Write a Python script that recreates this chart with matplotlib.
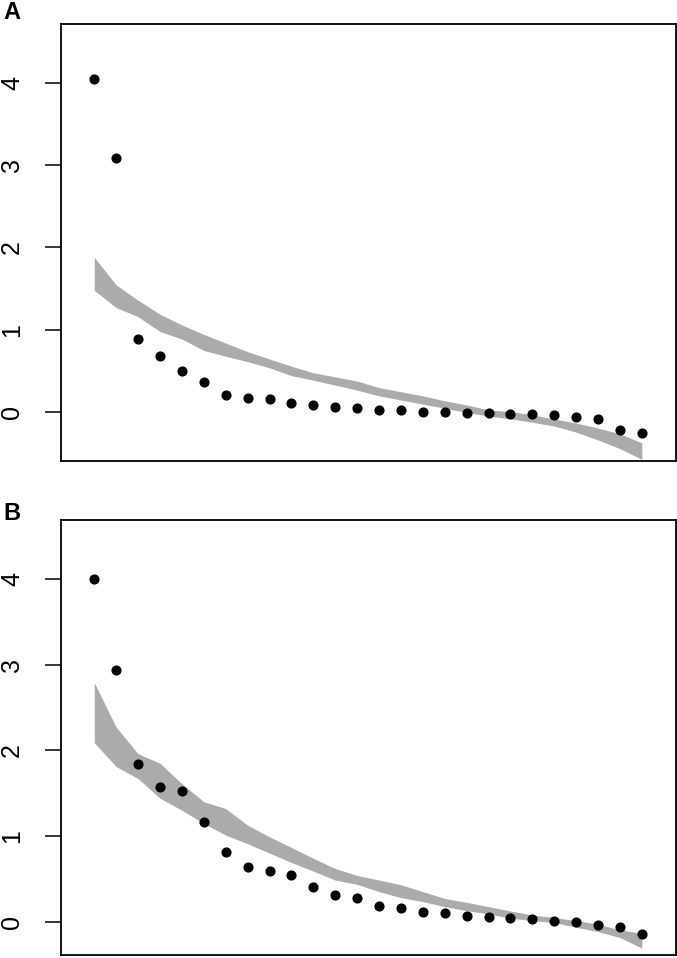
import matplotlib
matplotlib.use("Agg")
import matplotlib.pyplot as plt
import numpy as np

plt.rcParams['font.family'] = ['Liberation Sans', 'DejaVu Sans']

# rank positions (26 components)
rank = np.arange(1, 27)

# Panel A: observed values and band (lower / upper)
obs_a = [4.04, 3.08, 0.886, 0.68, 0.50, 0.37, 0.21, 0.18, 0.166, 0.11,
         0.093, 0.069, 0.049, 0.032, 0.028, 0.008, 0.0, -0.004, -0.012, -0.016,
         -0.02, -0.032, -0.057, -0.085, -0.21, -0.25]
upper_a = [1.88, 1.545, 1.36, 1.19, 1.06, 0.946, 0.84, 0.736, 0.647, 0.56,
           0.48, 0.43, 0.38, 0.30, 0.25, 0.20, 0.14, 0.09, 0.03, 0.01,
           -0.03, -0.08, -0.13, -0.19, -0.26, -0.37]
lower_a = [1.48, 1.27, 1.16, 0.98, 0.89, 0.75, 0.68, 0.615, 0.54, 0.445,
           0.39, 0.33, 0.27, 0.20, 0.15, 0.10, 0.05, 0.0, -0.045, -0.077,
           -0.12, -0.166, -0.24, -0.335, -0.44, -0.57]

# Panel B
obs_b = [4.0, 2.94, 1.84, 1.57, 1.53, 1.16, 0.815, 0.64, 0.59, 0.55,
         0.40, 0.31, 0.28, 0.186, 0.155, 0.113, 0.097, 0.07, 0.05, 0.039,
         0.027, 0.008, -0.008, -0.04, -0.062, -0.148]
upper_b = [2.79, 2.27, 1.96, 1.85, 1.61, 1.40, 1.32, 1.126, 0.99, 0.866,
           0.74, 0.62, 0.54, 0.485, 0.43, 0.35, 0.27, 0.225, 0.175, 0.124,
           0.078, 0.047, 0.012, -0.03, -0.097, -0.136]
lower_b = [2.09, 1.81, 1.67, 1.44, 1.30, 1.146, 1.01, 0.91, 0.80, 0.69,
           0.59, 0.485, 0.435, 0.35, 0.28, 0.233, 0.175, 0.128, 0.09, 0.04,
           0.012, -0.012, -0.066, -0.117, -0.186, -0.31]

yticks = [0, 1, 2, 3, 4]

W, H = 677, 958
fig = plt.figure(figsize=(W / 100, H / 100), dpi=100)


def panel(box, obs, lo, hi, ylim, label, label_y):
    l, t, r, b = box
    ax = fig.add_axes([l / W, 1 - b / H, (r - l) / W, (b - t) / H])
    ax.fill_between(rank, lo, hi, color='#ababab', linewidth=0)
    ax.plot(rank, obs, 'o', color='black', markersize=6.3)
    ax.set_xlim(-0.52, 27.56)
    ax.set_ylim(*ylim)
    ax.set_xticks([])
    ax.set_yticks(yticks)
    ax.set_yticklabels([str(v) for v in yticks], rotation=90, va='center', fontsize=18)
    ax.tick_params(axis='y', direction='out', length=11.5, width=1.1, pad=15)
    for s in ax.spines.values():
        s.set_linewidth(1.3)
    fig.text(3 / W, 1 - label_y / H, label, fontsize=17, fontweight='bold',
             ha='left', va='center')
    return ax


panel((61, 24, 676, 461), obs_a, lower_a, upper_a, (-0.59, 4.71), 'A', 12.5)
panel((61, 520, 676, 955), obs_b, lower_b, upper_b, (-0.39, 4.69), 'B', 513.5)

fig.savefig('out.png', dpi=100)
